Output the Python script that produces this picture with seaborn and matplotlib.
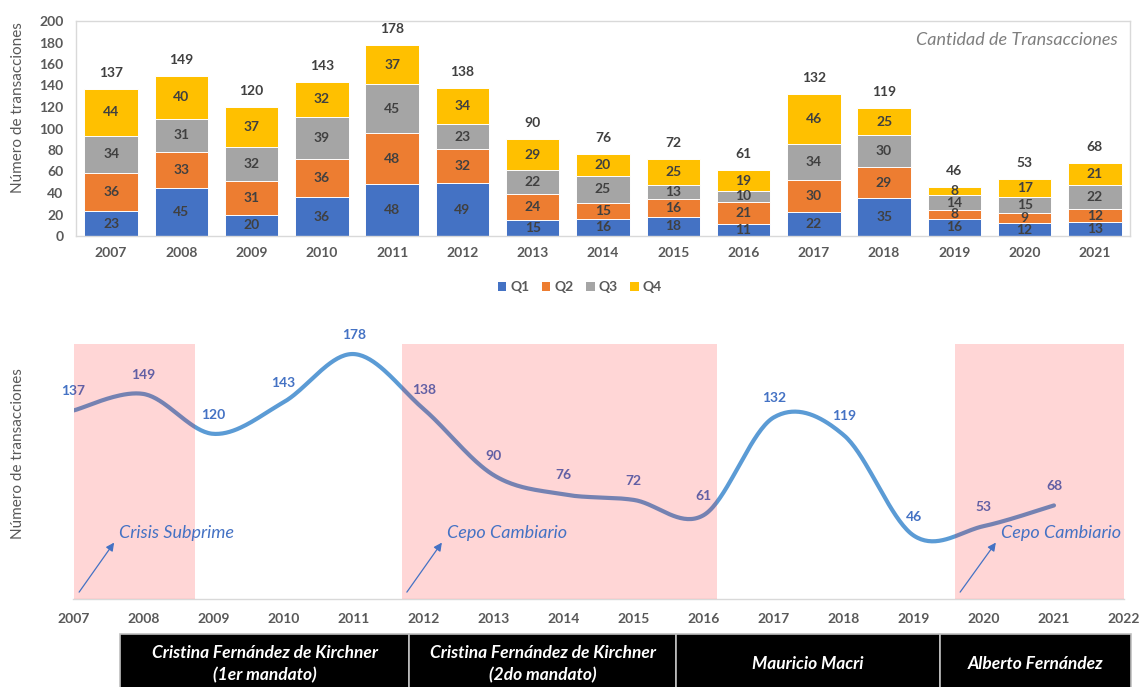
import numpy as np
import pandas as pd
import matplotlib
matplotlib.use("Agg")
import matplotlib.pyplot as plt
from matplotlib.patches import Patch, Rectangle
import seaborn as sns

# ---- data ----
years = [2007, 2008, 2009, 2010, 2011, 2012, 2013, 2014, 2015, 2016, 2017, 2018, 2019, 2020, 2021]
q1 = [23, 45, 20, 36, 48, 49, 15, 16, 18, 11, 22, 35, 16, 12, 13]
q2 = [36, 33, 31, 36, 48, 32, 24, 15, 16, 21, 30, 29, 8, 9, 12]
q3 = [34, 31, 32, 39, 45, 23, 22, 25, 13, 10, 34, 30, 14, 15, 22]
q4 = [44, 40, 37, 32, 37, 34, 29, 20, 25, 19, 46, 25, 8, 17, 21]
totals = [137, 149, 120, 143, 178, 138, 90, 76, 72, 61, 132, 119, 46, 53, 68]
quarters = ["Q1", "Q2", "Q3", "Q4"]

# shaded periods (start, end) in years
periods = [(2007.0, 2008.73), (2011.69, 2016.19), (2019.59, 2022.0)]
# annotations: text, arrow tail (x, y), arrow head (x, y)
notes = [
    ("Crisis Subprime", (2007.08, 5), (2007.58, 41)),
    ("Cepo Cambiario", (2011.76, 5), (2012.26, 41)),
    ("Cepo Cambiario", (2019.66, 5), (2020.17, 41)),
]
mandates = ["Cristina Fernández de Kirchner\n(1er mandato)",
            "Cristina Fernández de Kirchner\n(2do mandato)",
            "Mauricio Macri",
            "Alberto Fernández"]

colors = ["#4472C4", "#ED7D31", "#A5A5A5", "#FFC000"]
GRAY = "#595959"
AXIS = "#D9D9D9"
LABEL = "#404040"

sns.set_theme(style="white")
plt.rcParams["font.family"] = ["Lato", "DejaVu Sans"]

W, H = 1140, 687
fig = plt.figure(figsize=(W / 100, H / 100), dpi=100)

def frac(x0, y0, x1, y1):
    return [x0 / W, 1 - y1 / H, (x1 - x0) / W, (y1 - y0) / H]

# ================= top: stacked bars =================
ax = fig.add_axes(frac(76, 21, 1130, 236))
labels = [str(y) for y in years]
series = [q1, q2, q3, q4]
cum = np.cumsum(np.array(series), axis=0)
for k in range(3, -1, -1):
    df = pd.DataFrame({"year": labels, "v": cum[k]})
    sns.barplot(data=df, x="year", y="v", color=colors[k], width=0.76,
                edgecolor="white", linewidth=0.7, saturation=1, ax=ax, zorder=2)

for i in range(len(years)):
    base = 0
    for k in range(4):
        v = series[k][i]
        ax.text(i, base + v / 2, str(v), ha="center", va="center",
                fontsize=10, fontweight="bold", color=LABEL, zorder=5)
        base += v
    ax.annotate(str(totals[i]), (i, totals[i]), xytext=(0, 16), textcoords="offset pixels",
                ha="center", va="center", fontsize=10, fontweight="bold", color=LABEL)

ax.set_xlim(-0.5, len(years) - 0.5)
ax.set_ylim(0, 200)
ax.set_yticks(range(0, 201, 20))
ax.set_xlabel("")
ax.set_ylabel("")
ax.tick_params(axis="y", length=0, pad=9, labelsize=10, labelcolor=GRAY)
ax.tick_params(axis="x", which="major", length=0, pad=8, labelsize=10, labelcolor=GRAY)
for t in ax.get_xticklabels() + ax.get_yticklabels():
    t.set_fontweight("bold")
ax.set_xticks(np.arange(-0.5, len(years), 1.0), minor=True)
ax.tick_params(axis="x", which="minor", length=4, width=1, color=AXIS, direction="out")
for s in ax.spines.values():
    s.set_color(AXIS)
    s.set_linewidth(1)
ax.text(0.988, 0.91, "Cantidad de Transacciones", transform=ax.transAxes, ha="right",
        va="center", fontsize=13, style="italic", color="#7F7F7F")
fig.text(18 / W, 1 - 108 / H, "Número de transacciones", rotation=90, ha="center",
         va="center", fontsize=11, color=GRAY)

handles = [Patch(facecolor=c, edgecolor="none") for c in colors]
leg = fig.legend(handles, quarters, loc="center", bbox_to_anchor=(580 / W, 1 - 287 / H),
                 ncol=4, frameon=False, handlelength=0.6, handleheight=0.6,
                 handletextpad=0.3, columnspacing=0.9, prop={"size": 10, "weight": "bold"})
for t in leg.get_texts():
    t.set_color(GRAY)

# ================= bottom: smoothed line =================
bx = fig.add_axes(frac(73.5, 344, 1124, 599))

def bezier_smooth(xs, ys, n=40):
    p = np.column_stack([xs, ys]).astype(float)
    p = np.vstack([p[:1], p, p[-1:]])
    out = []
    for i in range(1, len(p) - 2):
        p0, p1, p2, p3 = p[i - 1], p[i], p[i + 1], p[i + 2]
        c1 = p1 + (p2 - p0) / 6
        c2 = p2 - (p3 - p1) / 6
        t = np.linspace(0, 1, n)[:, None]
        seg = ((1 - t) ** 3) * p1 + 3 * ((1 - t) ** 2) * t * c1 + 3 * (1 - t) * t ** 2 * c2 + t ** 3 * p2
        out.append(seg if i == 1 else seg[1:])
    return np.vstack(out)

curve = bezier_smooth(years, totals)
cdf = pd.DataFrame({"x": curve[:, 0], "y": curve[:, 1]})
sns.lineplot(data=cdf, x="x", y="y", sort=False, color="#5B9BD5", linewidth=3,
             solid_capstyle="round", ax=bx, zorder=2)

for x, v in zip(years, totals):
    bx.annotate(str(v), (x, v), xytext=(0, 19), textcoords="offset pixels",
                ha="center", va="center", fontsize=10, fontweight="bold",
                color="#4472C4", zorder=2)

for a, b in periods:
    bx.axvspan(a, b, ymin=0, ymax=1, facecolor="#FF0000", alpha=0.16,
               edgecolor="none", zorder=3)

for text, tail, head in notes:
    bx.annotate("", xy=head, xytext=tail,
                arrowprops=dict(arrowstyle="-|>", color="#4472C4", lw=0.9,
                                mutation_scale=12, shrinkA=0, shrinkB=0), zorder=4)
    bx.text(head[0] + 0.07, 48, text, ha="left", va="center", fontsize=13,
            style="italic", color="#4472C4", zorder=4)

bx.set_xlim(2007, 2022)
bx.set_ylim(0, 185.3)
bx.set_xticks(range(2007, 2023))
bx.set_yticks([])
bx.set_xlabel("")
bx.set_ylabel("")
bx.tick_params(axis="x", length=4, width=1, color=AXIS, pad=6, labelsize=10, labelcolor=GRAY)
for t in bx.get_xticklabels():
    t.set_fontweight("bold")
for side in ["left", "right", "top"]:
    bx.spines[side].set_visible(False)
bx.spines["bottom"].set_color(AXIS)
bx.spines["bottom"].set_linewidth(1)
fig.text(18 / W, 1 - 454 / H, "Número de transacciones", rotation=90, ha="center",
         va="center", fontsize=11, color=GRAY)

# ================= presidential terms =================
edges = [120, 409, 676, 940, 1131]
for i, name in enumerate(mandates):
    x0, x1 = edges[i], edges[i + 1]
    fig.patches.append(Rectangle((x0 / W, -0.02), (x1 - x0) / W, (H - 634) / H + 0.02,
                                 transform=fig.transFigure, facecolor="black",
                                 edgecolor="#BFBFBF", linewidth=1.2, zorder=1))
    fig.text((x0 + x1) / 2 / W, 1 - 664 / H, name, ha="center", va="center",
             fontsize=12.5, fontweight="bold", style="italic", color="white",
             linespacing=1.45, zorder=2)

fig.savefig("out.png", dpi=100)
